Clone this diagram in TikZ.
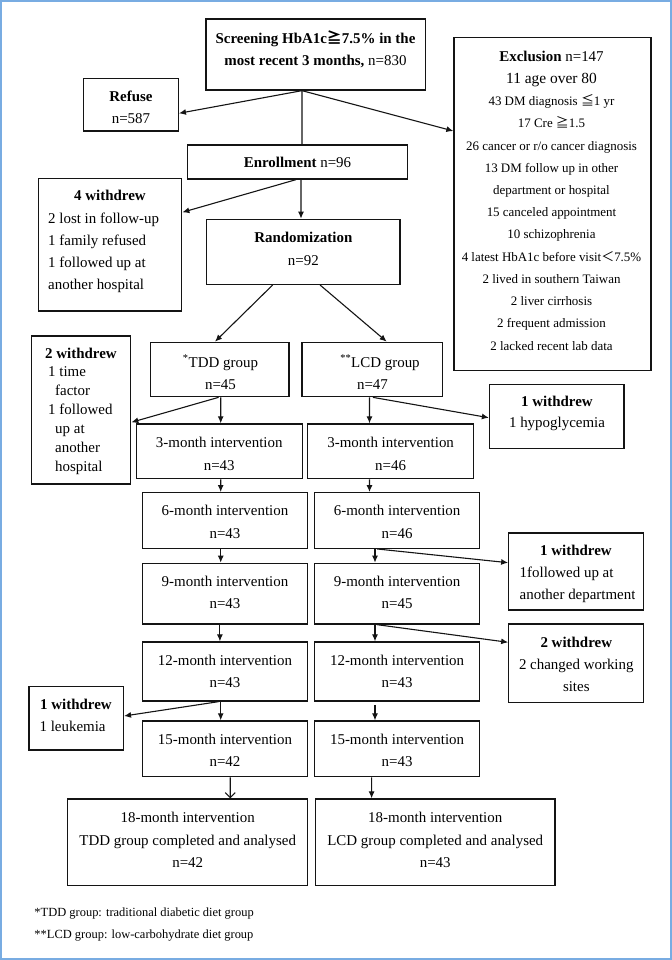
\documentclass[tikz,border=0pt]{standalone}
\usepackage{fontspec}
\setmainfont{Liberation Serif}
\newfontfamily\cjk{Noto Sans CJK SC}
\usetikzlibrary{arrows.meta}
\definecolor{framecol}{RGB}{120,172,226}
\newcommand{\mkbox}[5]{\node[box,minimum width={#4bp-#2bp},minimum height={#5bp-#3bp}] (#1) at ({(#2+#4)/2},{(#3+#5)/2}) {};}
\begin{document}
\begin{tikzpicture}[x=1bp,y=-1bp]
\tikzset{
 box/.style={draw=black!92, line width=1.3bp, inner sep=0pt},
 txt/.style={inner sep=0pt, align=center, font=\fontsize{15}{22.4}\selectfont},
 ltxt/.style={txt, align=left, anchor=west},
 conn/.style={draw=black!92, line width=1.1bp},
 arr/.style={conn, -{Latex[length=7bp,width=6bp]}},
 oarr/.style={conn, -{Straight Barb[length=5bp,width=10bp]}},
}
\useasboundingbox (0,0) rectangle (672,960);
\draw[framecol, line width=2bp] (1,1) rectangle (671,959);

% boxes
\mkbox{scr}{206}{19}{425.6}{90}
\mkbox{ref}{83.6}{78.3}{178.3}{131}
\mkbox{exc}{454}{37.3}{651}{370.7}
\mkbox{enr}{187.3}{145}{407.2}{179}
\mkbox{wd4}{38.3}{178.3}{181.7}{311}
\mkbox{rnd}{206.7}{219.3}{400}{284.3}
\mkbox{tdd}{150.7}{342.3}{289}{396.7}
\mkbox{lcd}{302}{342.3}{442.5}{396.7}
\mkbox{wd2}{31.5}{336}{130.7}{484}
\mkbox{hyp}{489.5}{384.3}{624}{448.3}
\mkbox{m3t}{136.3}{424}{302.2}{478.7}
\mkbox{m3l}{307.7}{424}{473.6}{478.7}
\mkbox{m6t}{142.3}{492.7}{307.7}{548.3}
\mkbox{m6l}{314.6}{492.7}{479.6}{548.3}
\mkbox{dep}{508.8}{533}{643.8}{610}
\mkbox{m9t}{142.3}{563.3}{307.7}{624}
\mkbox{m9l}{314.6}{563.3}{479.6}{624}
\mkbox{sit}{508.8}{624}{643.8}{702.3}
\mkbox{m12t}{142.3}{642}{307.7}{701}
\mkbox{m12l}{314.6}{642}{479.6}{701}
\mkbox{leu}{29.1}{686.7}{123.4}{750}
\mkbox{m15t}{142.3}{721}{307.7}{776.7}
\mkbox{m15l}{314.6}{721}{479.6}{776.7}
\mkbox{m18t}{67.7}{799}{307.7}{885.7}
\mkbox{m18l}{315.5}{799}{555}{885.7}

% texts
\node[txt] (t-scr) at (315.5,49) {\textbf{Screening HbA1c{\cjk ≧}7.5\% in the}\\\textbf{most recent 3 months,} n=830};
\node[txt] (t-ref) at (131,107.5) {\textbf{Refuse}\\n=587};
\node[txt, font=\fontsize{13}{22.3}\selectfont] (t-exc) at (551.5,200.5) {%
{\fontsize{15}{22.3}\selectfont\textbf{Exclusion} n=147}\\
{\fontsize{15.5}{22.3}\selectfont 11 age over 80}\\
43 DM diagnosis {\cjk ≦}1 yr\\
17 Cre {\cjk ≧}1.5\\
26 cancer or r/o cancer diagnosis\\
13 DM follow up in other\\
department or hospital\\
15 canceled appointment\\
10 schizophrenia\\
4 latest HbA1c before visit{\cjk ＜}7.5\%\\
2 lived in southern Taiwan\\
2 liver cirrhosis\\
2 frequent admission\\
2 lacked recent lab data};
\node[txt] (t-enr) at (297.5,162.3) {\textbf{Enrollment} n=96};
\node[txt] (t-wd4h) at (110,195.7) {\textbf{4 withdrew}};
\node[ltxt] (t-wd4) at (48,252.8) {2 lost in follow-up\\1 family refused\\1 followed up at\\another hospital};
\node[txt] (t-rnd) at (303.35,248.9) {\textbf{Randomization}\\n=92};
\node[txt] (t-tdd) at (220.5,372.2) {\textsuperscript{*}TDD group\\n=45};
\node[txt] (t-lcd) at (372.5,372.2) {\hspace*{15bp}\textsuperscript{**}LCD group\\n=47};
\node[txt] (t-wd2h) at (81,353.3) {\textbf{2 withdrew}};
\node[ltxt, font=\fontsize{15}{18.9}\selectfont] (t-wd2) at (48,420.6) {1 time\\\hspace*{7bp}factor\\1 followed\\\hspace*{7bp}up at\\\hspace*{7bp}another\\\hspace*{7bp}hospital};
\node[txt, font=\fontsize{15}{21}\selectfont] (t-hyp) at (557,413.8) {\textbf{1 withdrew}\\1 hypoglycemia};
\node[txt] (t-m3t) at (219.25,454) {3-month intervention\\n=43};
\node[txt] (t-m3l) at (390.65,454) {3-month intervention\\n=46};
\node[txt] (t-m6t) at (225,521.8) {6-month intervention\\n=43};
\node[txt] (t-m6l) at (397.1,521.8) {6-month intervention\\n=46};
\node[txt] (t-deph) at (576,550.7) {\textbf{1 withdrew}};
\begin{scope}
\clip (510,560) rectangle (634,608);
\node[ltxt] (t-dep) at (519.5,585) {1followed up at\\another department};
\end{scope}
\node[txt] (t-m9t) at (225,592.3) {9-month intervention\\n=43};
\node[txt] (t-m9l) at (397.1,592.3) {9-month intervention\\n=45};
\node[txt, font=\fontsize{15}{22}\selectfont] (t-sit) at (576.3,664.7) {\textbf{2 withdrew}\\2 changed working\\sites};
\node[txt] (t-m12t) at (225,671.5) {12-month intervention\\n=43};
\node[txt] (t-m12l) at (397.1,671.5) {12-month intervention\\n=43};
\node[txt] (t-leuh) at (76,704) {\textbf{1 withdrew}};
\node[ltxt] (t-leu) at (39.4,726) {1 leukemia};
\node[txt] (t-m15t) at (225,750.2) {15-month intervention\\n=42};
\node[txt] (t-m15l) at (397.1,750.2) {15-month intervention\\n=43};
\node[txt] (t-m18t) at (187.7,839.9) {18-month intervention\\TDD group completed and analysed\\n=42};
\node[txt] (t-m18l) at (435.25,839.9) {18-month intervention\\LCD group completed and analysed\\n=43};
\node[ltxt, font=\fontsize{12.5}{15}\selectfont] (f1) at (34.3,913.3) {*TDD group: traditional diabetic diet group};
\node[ltxt, font=\fontsize{12.5}{15}\selectfont] (f2) at (34.3,936) {**LCD group: low-carbohydrate diet group};

% connectors
\draw[arr] ([xshift=-13.8bp]scr.south) -- ([yshift=-8.65bp]ref.east);
\draw[arr] ([xshift=-13.8bp]scr.south) -- ([yshift=73bp]exc.west);
\draw[conn] ([xshift=-13.8bp]scr.south) -- ([xshift=4.75bp]enr.north);
\draw[arr] ([xshift=-1.25bp]enr.south) -- ([yshift=32.35bp]wd4.east);
\draw[arr] ([xshift=3.75bp]enr.south) -- ([xshift=-2.35bp]rnd.north);
\draw[arr] ([xshift=-30.65bp]rnd.south) -- ([xshift=-4.85bp]tdd.north);
\draw[arr] ([xshift=16.65bp]rnd.south) -- ([xshift=14.45bp]lcd.north);
\draw[arr] ([xshift=-1.25bp]tdd.south) -- ([yshift=-12.3bp]wd2.east);
\draw[arr] ([xshift=0.85bp]tdd.south) -- ([xshift=1.45bp]m3t.north);
\draw[arr] ([xshift=-2.75bp]lcd.south) -- ([xshift=-21.15bp]m3l.north);
\draw[arr] ([xshift=0.65bp]lcd.south) -- ([yshift=-1.4bp]hyp.west);
\draw[arr] ([xshift=1.45bp]m3t.south) -- ([xshift=-4.3bp]m6t.north);
\draw[arr] ([xshift=-21.15bp]m3l.south) -- ([xshift=-27.6bp]m6l.north);
\draw[arr] ([xshift=-4.3bp]m6t.south) -- ([xshift=-4.3bp]m9t.north);
\draw[arr] ([xshift=-22.1bp]m6l.south) -- ([xshift=-22.1bp]m9l.north);
\draw[arr] ([xshift=-20.1bp]m6l.south) -- ([yshift=8.8bp]dep.west);
\draw[arr] ([xshift=-5.1bp]m9t.south) -- ([xshift=-5.1bp]m12t.north);
\draw[arr] ([xshift=-22.1bp]m9l.south) -- ([xshift=-22.1bp]m12l.north);
\draw[arr] ([xshift=-20.1bp]m9l.south) -- ([yshift=20.85bp]sit.west);
\draw[arr] ([xshift=-6.4bp]m12t.south) -- ([yshift=2.35bp]leu.east);
\draw[arr] ([xshift=-4.3bp]m12t.south) -- ([xshift=-4.3bp]m15t.north);
\draw[arr] ([xshift=-22.1bp,yshift=-3.3bp]m12l.south) -- ([xshift=-22.1bp]m15l.north);
\draw[oarr] ([xshift=5.2bp]m15t.south) -- ([xshift=42.5bp]m18t.north);
\draw[arr] ([xshift=-25.5bp]m15l.south) -- ([xshift=-63.65bp]m18l.north);
\end{tikzpicture}
\end{document}
